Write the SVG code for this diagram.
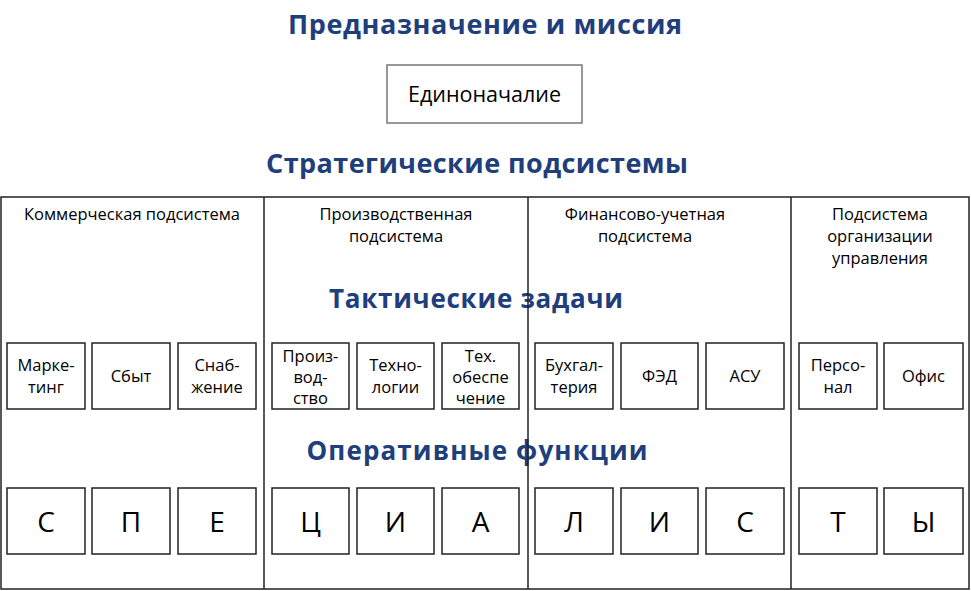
<svg xmlns="http://www.w3.org/2000/svg" width="971" height="591" viewBox="0 0 971 591">
<style>
.h{font-family:"Open Sans","DejaVu Sans",sans-serif;font-weight:bold;fill:#203E7C;text-anchor:middle}
.t{font-family:"Open Sans","DejaVu Sans",sans-serif;font-size:16.5px;fill:#000;text-anchor:middle}
.b{fill:#fff;stroke:#222;stroke-width:1.5}
.L{font-family:"Open Sans","DejaVu Sans",sans-serif;font-size:28px;fill:#000;text-anchor:middle}
.ln{stroke:#222;stroke-width:1.5;fill:none}
</style>
<rect width="971" height="591" fill="#fff"/>
<g id="titles">
<text class="h" x="485" y="34" font-size="27" textLength="394" lengthAdjust="spacing">Предназначение и миссия</text>
<text class="h" x="477" y="173" font-size="27" textLength="422" lengthAdjust="spacing">Стратегические подсистемы</text>
<text class="h" x="476" y="308" font-size="26" textLength="294" lengthAdjust="spacing">Тактические задачи</text>
<text class="h" x="477" y="460" font-size="26" textLength="341" lengthAdjust="spacing">Оперативные функции</text>
</g>
<g id="edinonachalie">
<rect x="387" y="65" width="195" height="58" fill="#fff" stroke="#777" stroke-width="1.5"/>
<text class="t" x="484.5" y="102" style="font-size:21.5px">Единоначалие</text>
</g>
<g id="frame">
<rect class="ln" x="1" y="197" width="968" height="392"/>
<line class="ln" x1="264" y1="197" x2="264" y2="589"/>
<line class="ln" x1="528" y1="197" x2="528" y2="589"/>
<line class="ln" x1="791" y1="197" x2="791" y2="589"/>
</g>
<g id="subsystems">
<text class="t" x="132" y="220">Коммерческая подсистема</text>
<text class="t" x="396" y="220">Производственная<tspan x="396" y="242">подсистема</tspan></text>
<text class="t" x="645" y="220">Финансово-учетная<tspan x="645" y="242">подсистема</tspan></text>
<text class="t" x="880" y="220">Подсистема<tspan x="880" y="242">организации</tspan><tspan x="880" y="264">управления</tspan></text>
</g>
<g id="tasks">
<g id="t1"><rect class="b" x="7" y="343" width="78" height="66"/><text class="t" x="46" y="371">Марке-<tspan x="46" y="393">тинг</tspan></text></g>
<g id="t2"><rect class="b" x="92" y="343" width="78" height="66"/><text class="t" x="131" y="382">Сбыт</text></g>
<g id="t3"><rect class="b" x="178" y="343" width="78" height="66"/><text class="t" x="217" y="371">Снаб-<tspan x="217" y="393">жение</tspan></text></g>
<g id="t4"><rect class="b" x="272" y="343" width="77" height="66"/><text class="t" x="310.5" y="362">Произ-<tspan x="310.5" y="383">вод-</tspan><tspan x="310.5" y="404">ство</tspan></text></g>
<g id="t5"><rect class="b" x="357" y="343" width="77" height="66"/><text class="t" x="395.5" y="371">Техно-<tspan x="395.5" y="393">логии</tspan></text></g>
<g id="t6"><rect class="b" x="442" y="343" width="77" height="66"/><text class="t" x="480.5" y="362">Тех.<tspan x="480.5" y="383">обеспе</tspan><tspan x="480.5" y="404">чение</tspan></text></g>
<g id="t7"><rect class="b" x="535" y="343" width="78" height="66"/><text class="t" x="574" y="371">Бухгал-<tspan x="574" y="393">терия</tspan></text></g>
<g id="t8"><rect class="b" x="621" y="343" width="77" height="66"/><text class="t" x="659.5" y="382">ФЭД</text></g>
<g id="t9"><rect class="b" x="706" y="343" width="78" height="66"/><text class="t" x="745" y="382">АСУ</text></g>
<g id="t10"><rect class="b" x="799" y="343" width="78" height="66"/><text class="t" x="838" y="371">Персо-<tspan x="838" y="393">нал</tspan></text></g>
<g id="t11"><rect class="b" x="884" y="343" width="79" height="66"/><text class="t" x="923.5" y="382">Офис</text></g>
</g>
<g id="functions">
<g id="f1"><rect class="b" x="7" y="488" width="78" height="66"/><text class="L" x="46" y="532">С</text></g>
<g id="f2"><rect class="b" x="92" y="488" width="78" height="66"/><text class="L" x="131" y="532">П</text></g>
<g id="f3"><rect class="b" x="178" y="488" width="78" height="66"/><text class="L" x="217" y="532">Е</text></g>
<g id="f4"><rect class="b" x="272" y="488" width="77" height="66"/><text class="L" x="310.5" y="532">Ц</text></g>
<g id="f5"><rect class="b" x="357" y="488" width="77" height="66"/><text class="L" x="395.5" y="532">И</text></g>
<g id="f6"><rect class="b" x="442" y="488" width="77" height="66"/><text class="L" x="480.5" y="532">А</text></g>
<g id="f7"><rect class="b" x="535" y="488" width="78" height="66"/><text class="L" x="574" y="532">Л</text></g>
<g id="f8"><rect class="b" x="621" y="488" width="77" height="66"/><text class="L" x="659.5" y="532">И</text></g>
<g id="f9"><rect class="b" x="706" y="488" width="78" height="66"/><text class="L" x="745" y="532">С</text></g>
<g id="f10"><rect class="b" x="799" y="488" width="78" height="66"/><text class="L" x="838" y="532">Т</text></g>
<g id="f11"><rect class="b" x="884" y="488" width="79" height="66"/><text class="L" x="923.5" y="532">Ы</text></g>
</g>
<g id="connectors"/>
</svg>
